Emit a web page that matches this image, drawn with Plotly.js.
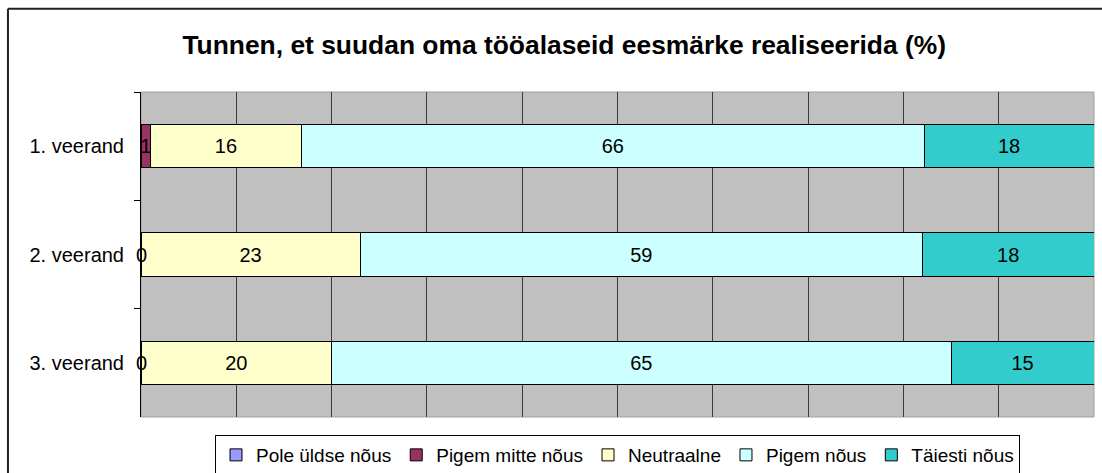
<!DOCTYPE html>
<html>
<head>
<meta charset="utf-8">
<script src="https://cdn.plot.ly/plotly-3.0.1.min.js"></script>
<style>html,body{margin:0;padding:0;background:#fff;overflow:hidden;}#chart{width:1102px;height:473px;overflow:hidden;}</style>
</head>
<body>
<div id="chart"></div>
<script>
// ---- data ----
const categories = ['1. veerand', '2. veerand', '3. veerand'];
const seriesNames = ['Pole üldse nõus', 'Pigem mitte nõus', 'Neutraalne', 'Pigem nõus', 'Täiesti nõus'];
const poleUldseNous = [0, 0, 0];
const pigemMitteNous = [1, 0, 0];
const neutraalne = [16, 23, 20];
const pigemNous = [66, 59, 65];
const taiestiNous = [18, 18, 15];
const showLabels = [false, true, true, true, true];

const seriesValues = [poleUldseNous, pigemMitteNous, neutraalne, pigemNous, taiestiNous];
const colors = ['#9999FF', '#993366', '#FFFFCC', '#CCFFFF', '#33CCCC'];
const FONT = 'Liberation Sans, Arial, sans-serif';
const LABEL_SIZE = 20;

const traces = seriesValues.map((vals, i) => ({
  type: 'bar',
  orientation: 'h',
  name: seriesNames[i],
  y: categories,
  x: vals,
  width: 0.4,
  marker: {color: colors[i], line: {color: '#000', width: 1}},
  text: showLabels[i] ? vals.map(String) : undefined,
  textposition: showLabels[i] ? 'inside' : 'none',
  insidetextanchor: 'middle',
  textangle: 0,
  constraintext: 'none',
  textfont: {family: FONT, size: LABEL_SIZE, color: '#000'},
  hoverinfo: 'name+x'
}));

// labels for zero-width segments (drawn at their stacked position)
const annotations = [];
categories.forEach((c, j) => {
  const total = seriesValues.reduce((s, v) => s + v[j], 0);
  let cum = 0;
  seriesValues.forEach((vals, i) => {
    const w = vals[j] / total * 100;
    if (showLabels[i] && vals[j] === 0) {
      annotations.push({
        x: cum + w / 2, y: c, xref: 'x', yref: 'y',
        text: String(vals[j]), showarrow: false,
        font: {family: FONT, size: LABEL_SIZE, color: '#000'}
      });
    }
    cum += w;
  });
});

const layout = {
  width: 1102, height: 473,
  margin: {l: 141, r: 8, t: 92, b: 56},
  paper_bgcolor: '#ffffff',
  plot_bgcolor: '#C0C0C0',
  font: {family: FONT, size: LABEL_SIZE, color: '#000'},
  barmode: 'stack',
  barnorm: 'percent',
  title: {
    text: '<b>Tunnen, et suudan oma tööalaseid eesmärke realiseerida (%)</b>',
    font: {family: FONT, size: 26.4, color: '#000'},
    x: 0.512, xref: 'container', xanchor: 'center',
    y: 0.905, yref: 'container', yanchor: 'middle'
  },
  xaxis: {
    range: [0, 100], dtick: 10, tick0: 0,
    showticklabels: false, ticks: '',
    showgrid: true, gridcolor: '#3a3a3a', gridwidth: 1,
    zeroline: false, showline: false, fixedrange: true
  },
  yaxis: {
    type: 'category', autorange: 'reversed',
    tickson: 'boundaries', ticks: 'outside', ticklen: 6, tickcolor: '#000', tickwidth: 1,
    showline: true, linecolor: '#000', linewidth: 1,
    showgrid: false, zeroline: false,
    ticklabelstandoff: 12,
    tickfont: {family: FONT, size: LABEL_SIZE, color: '#000'},
    fixedrange: true
  },
  showlegend: true,
  legend: {
    orientation: 'h', traceorder: 'normal',
    x: 0.5, xanchor: 'center',
    yref: 'container', y: 0.0803, yanchor: 'top',
    bordercolor: '#000', borderwidth: 1, bgcolor: '#fff',
    font: {family: FONT, size: 19, color: '#000'}
  },
  shapes: [
    {type: 'rect', xref: 'paper', yref: 'paper', x0: 0, x1: 1, y0: 0, y1: 1,
     line: {color: '#a0a0a0', width: 1}, layer: 'below'},
    {type: 'line', xref: 'paper', yref: 'paper', x0: -0.1396, x1: 1.02, y0: 1.256, y1: 1.256,
     line: {color: '#222', width: 2}, layer: 'below'},
    {type: 'line', xref: 'paper', yref: 'paper', x0: -0.1396, x1: -0.1396, y0: -0.18, y1: 1.256,
     line: {color: '#222', width: 2}, layer: 'below'}
  ],
  annotations: annotations
};

Plotly.newPlot('chart', traces, layout, {displayModeBar: false, staticPlot: true});
</script>
</body>
</html>
